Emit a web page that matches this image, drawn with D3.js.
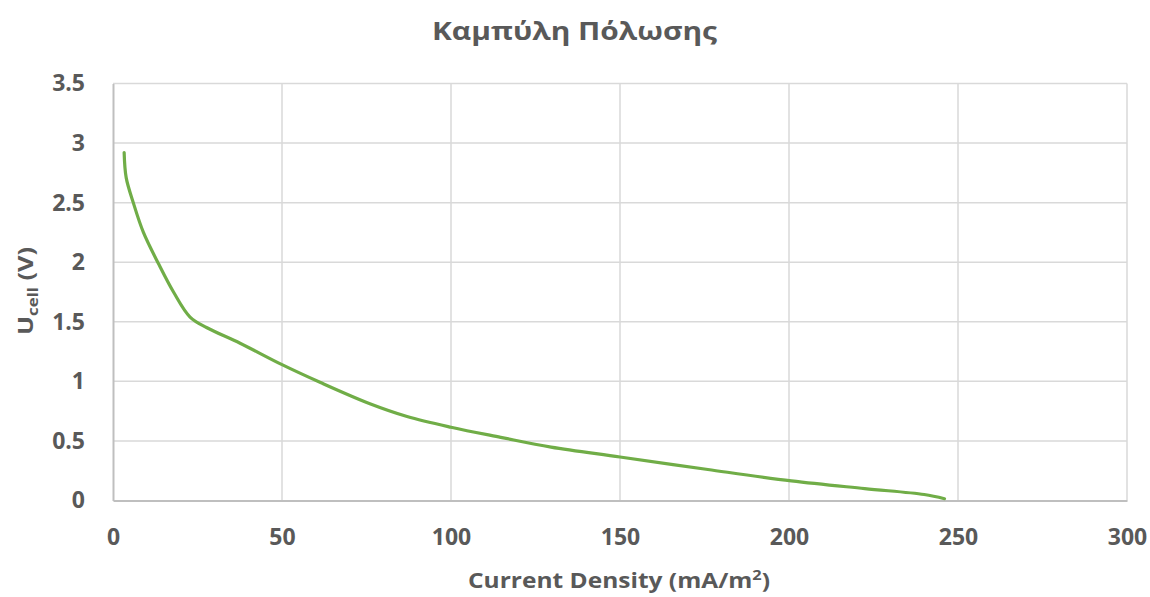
<!DOCTYPE html>
<html><head><meta charset="utf-8">
<script src="https://cdn.jsdelivr.net/npm/d3@7"></script>
<style>body{margin:0;background:#fff}svg{display:block}</style>
</head><body>
<svg id="c" width="1150" height="597"></svg>
<script>
const title = "Καμπύλη Πόλωσης";
const currentDensity = [3.3, 3.9, 6.0, 9.0, 13.6, 17.9, 22.8, 27.8, 37.6, 50, 61.4, 76.2, 87, 100, 114.7, 129.6, 150, 176, 200.7, 222.4, 240, 246];
const voltage = [2.92, 2.71, 2.50, 2.25, 1.98, 1.75, 1.54, 1.45, 1.32, 1.14, 0.99, 0.81, 0.705, 0.615, 0.53, 0.448, 0.365, 0.26, 0.165, 0.10, 0.05, 0.015];
const xTicks = [0, 50, 100, 150, 200, 250, 300];
const yTicks = [0, 0.5, 1, 1.5, 2, 2.5, 3, 3.5];

const W = 1150, H = 597;
const m = {left: 113, right: 23, top: 83.5, bottom: 96.5};
const svg = d3.select("#c");
const font = "'Open Sans', sans-serif";
const txt = "#595959";

const x = d3.scaleLinear().domain([0, 300]).range([m.left, W - m.right]);
const y = d3.scaleLinear().domain([0, 3.5]).range([H - m.bottom, m.top]);

// gridlines
svg.append("g").selectAll("line").data(yTicks.filter(d => d > 0)).join("line")
  .attr("x1", m.left).attr("x2", W - m.right)
  .attr("y1", d => y(d)).attr("y2", d => y(d))
  .attr("stroke", "#d9d9d9").attr("stroke-width", 1.5);
svg.append("g").selectAll("line").data(xTicks.filter(d => d > 0)).join("line")
  .attr("y1", m.top).attr("y2", H - m.bottom)
  .attr("x1", d => x(d)).attr("x2", d => x(d))
  .attr("stroke", "#d9d9d9").attr("stroke-width", 1.5);

// axes
const xAxis = svg.append("g").attr("transform", `translate(0,${H - m.bottom})`)
  .call(d3.axisBottom(x).tickValues(xTicks).tickSize(0).tickPadding(31).tickFormat(d3.format("d")));
const yAxis = svg.append("g").attr("transform", `translate(${m.left},0)`)
  .call(d3.axisLeft(y).tickValues(yTicks).tickSize(0).tickPadding(28).tickFormat(d => String(d)));
[xAxis, yAxis].forEach(g => {
  g.select(".domain").attr("stroke", "#bfbfbf").attr("stroke-width", 2);
  g.selectAll("text").attr("fill", txt).attr("font-family", font)
    .attr("font-size", 23).attr("font-weight", "bold");
});
xAxis.selectAll("text").attr("dy", "0.6em");

// line
const line = d3.line().x((d, i) => x(currentDensity[i])).y((d, i) => y(voltage[i]))
  .curve(d3.curveCatmullRom.alpha(0.5));
svg.append("path").datum(voltage).attr("d", line)
  .attr("fill", "none").attr("stroke", "#70ad47").attr("stroke-width", 3.2)
  .attr("stroke-linecap", "round").attr("stroke-linejoin", "round");

// title
svg.append("text").attr("x", 432).attr("y", 40)
  .attr("font-family", font).attr("font-size", 25).attr("font-weight", "bold")
  .attr("textLength", 285).attr("lengthAdjust", "spacingAndGlyphs")
  .attr("fill", txt).text(title);

// x axis title
const xt = svg.append("text").attr("x", 468).attr("y", 588)
  .attr("font-family", font).attr("font-size", 21).attr("font-weight", "bold").attr("fill", txt)
  .attr("textLength", 302).attr("lengthAdjust", "spacingAndGlyphs");
xt.append("tspan").text("Current Density (mA/m");
xt.append("tspan").attr("font-size", 14).attr("dy", -8).text("2");
xt.append("tspan").attr("dy", 8).text(")");

// y axis title
const yt = svg.append("text").attr("transform", "translate(33,335) rotate(-90)")
  .attr("font-family", font).attr("font-size", 21)
  .attr("font-weight", "bold").attr("fill", txt)
  .attr("textLength", 88).attr("lengthAdjust", "spacingAndGlyphs");
yt.append("tspan").text("U");
yt.append("tspan").attr("font-size", 14).attr("dy", 5).text("cell");
yt.append("tspan").attr("dy", -5).text(" (V)");
</script>
</body></html>
